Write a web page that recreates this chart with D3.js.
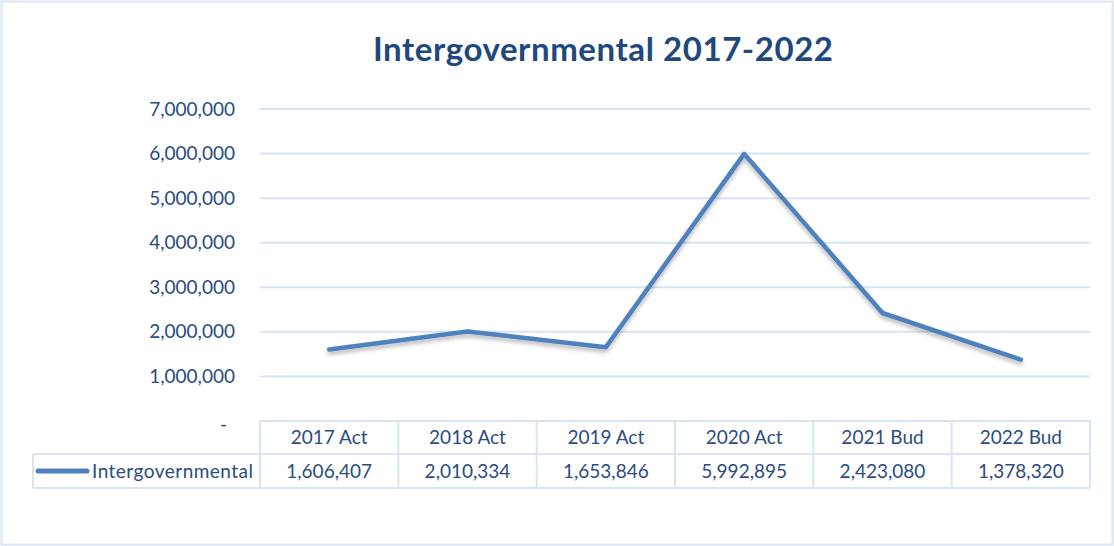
<!DOCTYPE html>
<html>
<head>
<meta charset="utf-8">
<script src="https://cdn.jsdelivr.net/npm/d3@7"></script>
<style>
  html, body { margin: 0; padding: 0; background: #fff; }
  svg { display: block; }
  text { font-family: Lato, "Open Sans", sans-serif; }
</style>
</head>
<body>
<svg id="chart" width="1114" height="546"></svg>
<script>
// Data
const categories = ["2017 Act", "2018 Act", "2019 Act", "2020 Act", "2021 Bud", "2022 Bud"];
const seriesName = "Intergovernmental";
const values = [1606407, 2010334, 1653846, 5992895, 2423080, 1378320];
const yTicks = [0, 1000000, 2000000, 3000000, 4000000, 5000000, 6000000, 7000000];
const titleText = "Intergovernmental 2017-2022";

const W = 1114, H = 546;
const plot = { left: 260, right: 1090, top: 109, bottom: 421 };
const table = { top: 421, mid: 454, bottom: 488, legendLeft: 33 };

const lineColor = "#4f81bd";
const gridColor = "#d9e4f2";
const textColor = "#2b4c7e";

const svg = d3.select("#chart");

const defs = svg.append("defs");
const shadow = defs.append("filter").attr("id", "lineShadow")
  .attr("x", "-5%").attr("y", "-10%").attr("width", "110%").attr("height", "130%");
shadow.append("feDropShadow")
  .attr("dx", 0).attr("dy", 3).attr("stdDeviation", 2)
  .attr("flood-color", "#000").attr("flood-opacity", 0.28);

// Outer frame
svg.append("rect")
  .attr("x", 1.5).attr("y", 1.5).attr("width", W - 3).attr("height", H - 3)
  .attr("fill", "#fff").attr("stroke", "#dbe5f1").attr("stroke-width", 2);

// Title
svg.append("text")
  .attr("x", 603).attr("y", 61)
  .attr("text-anchor", "middle")
  .attr("font-size", 33).attr("font-weight", 700)
  .attr("fill", "#1f497d")
  .attr("textLength", 460).attr("lengthAdjust", "spacing")
  .text(titleText);

// Scales
const x = d3.scaleBand().domain(categories).range([plot.left, plot.right]).padding(0);
const y = d3.scaleLinear().domain([0, 7000000]).range([plot.bottom, plot.top]);

// Gridlines (no line at zero; the table edge sits there)
svg.append("g").selectAll("line")
  .data(yTicks.filter(d => d > 0))
  .join("line")
  .attr("x1", plot.left).attr("x2", plot.right)
  .attr("y1", d => y(d)).attr("y2", d => y(d))
  .attr("stroke", gridColor).attr("stroke-width", 2);

// Y axis labels
const fmt = d3.format(",");
const yAxis = d3.axisLeft(y)
  .tickValues(yTicks)
  .tickSize(0)
  .tickPadding(25)
  .tickFormat(d => d === 0 ? "-" : fmt(d));
const yG = svg.append("g").attr("transform", `translate(${plot.left},0)`).call(yAxis);
yG.select(".domain").remove();
yG.selectAll("text")
  .attr("font-size", 19).attr("fill", textColor)
  .style("font-family", "Lato, 'Open Sans', sans-serif");
yG.selectAll(".tick").filter(d => d === 0).select("text").attr("dx", -8).attr("dy", "0.48em");

// Data table
const tg = svg.append("g");
function hline(x1, x2, yy) {
  tg.append("line").attr("x1", x1).attr("x2", x2).attr("y1", yy).attr("y2", yy)
    .attr("stroke", gridColor).attr("stroke-width", 2);
}
function vline(xx, y1, y2) {
  tg.append("line").attr("x1", xx).attr("x2", xx).attr("y1", y1).attr("y2", y2)
    .attr("stroke", gridColor).attr("stroke-width", 2);
}
hline(plot.left, plot.right, table.top);
hline(table.legendLeft, plot.right, table.mid);
hline(table.legendLeft, plot.right, table.bottom);
vline(table.legendLeft, table.mid, table.bottom);
const edges = categories.map(c => x(c)).concat([plot.right]);
edges.forEach(e => vline(e, table.top, table.bottom));

const cellFont = 19;

// Header row
tg.selectAll("text.hdr").data(categories).join("text")
  .attr("class", "hdr")
  .attr("x", d => x(d) + x.bandwidth() / 2)
  .attr("y", (table.top + table.mid) / 2 + 6.5)
  .attr("text-anchor", "middle")
  .attr("font-size", cellFont).attr("fill", textColor)
  .text(d => d);

// Value row
tg.selectAll("text.val").data(values).join("text")
  .attr("class", "val")
  .attr("x", (d, i) => x(categories[i]) + x.bandwidth() / 2)
  .attr("y", (table.mid + table.bottom) / 2 + 6.5)
  .attr("text-anchor", "middle")
  .attr("font-size", cellFont).attr("fill", textColor)
  .text(d => fmt(d));

// Legend key in the table
const legY = (table.mid + table.bottom) / 2;
tg.append("line")
  .attr("x1", 38).attr("x2", 87).attr("y1", legY).attr("y2", legY)
  .attr("stroke", lineColor).attr("stroke-width", 5).attr("stroke-linecap", "round");
tg.append("text")
  .attr("x", 92).attr("y", legY + 6.5)
  .attr("font-size", cellFont).attr("fill", textColor)
  .attr("textLength", 161).attr("lengthAdjust", "spacing")
  .text(seriesName);

// Series line
const line = d3.line()
  .x((d, i) => x(categories[i]) + x.bandwidth() / 2)
  .y(d => y(d));
svg.append("path")
  .datum(values)
  .attr("d", line)
  .attr("fill", "none")
  .attr("stroke", lineColor)
  .attr("stroke-width", 4.5)
  .attr("stroke-linecap", "round")
  .attr("stroke-linejoin", "round")
  .attr("filter", "url(#lineShadow)");
</script>
</body>
</html>
